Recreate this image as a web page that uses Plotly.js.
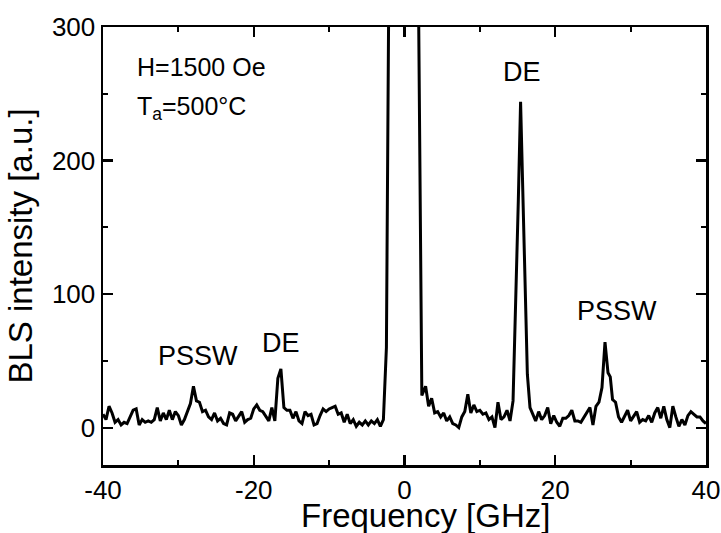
<!DOCTYPE html>
<html>
<head>
<meta charset="utf-8">
<script src="https://cdn.plot.ly/plotly-3.0.1.min.js"></script>
<style>
  html, body { margin: 0; padding: 0; background: #fff; }
  #chart { width: 721px; height: 533px; }
</style>
</head>
<body>
<div id="chart"></div>
<script>
// Brillouin light scattering spectrum, H = 1500 Oe, annealed at 500 °C
const frequencyGHz = [
  -40.0, -39.6, -39.2, -38.8, -38.4, -38.0, -37.6, -37.2, -36.8, -36.4,
  -36.0, -35.6, -35.2, -34.8, -34.4, -34.0, -33.6, -33.2, -32.8, -32.4,
  -32.0, -31.6, -31.2, -30.8, -30.4, -30.0, -29.6, -29.2, -28.8, -28.4,
  -28.0, -27.6, -27.2, -26.8, -26.4, -26.0, -25.6, -25.2, -24.8, -24.4,
  -24.0, -23.6, -23.2, -22.8, -22.4, -22.0, -21.6, -21.2, -20.8, -20.4,
  -20.0, -19.6, -19.2, -18.8, -18.4, -18.0, -17.6, -17.2, -16.8, -16.4,
  -16.0, -15.6, -15.2, -14.8, -14.4, -14.0, -13.6, -13.2, -12.8, -12.4,
  -12.0, -11.6, -11.2, -10.8, -10.4, -10.0, -9.6, -9.2, -8.8, -8.4,
  -8.0, -7.6, -7.2, -6.8, -6.4, -6.0, -5.6, -5.2, -4.8, -4.4,
  -4.0, -3.6, -3.2, -2.8, -2.4, -2.0, -1.6, -1.2, -0.8, -0.4,
  0.0, 0.4, 0.8, 1.2, 1.6, 1.8, 2.3, 2.8, 3.2, 3.6,
  4.0, 4.4, 4.8, 5.2, 5.6, 6.0, 6.4, 6.8, 7.2, 7.6,
  8.0, 8.4, 8.8, 9.2, 9.6, 10.0, 10.4, 10.8, 11.2, 11.6,
  12.0, 12.4, 12.8, 13.2, 13.6, 14.0, 14.4, 14.8, 15.1, 15.4,
  15.7, 16.0, 16.3, 16.65, 17.0, 17.4, 17.8, 18.2, 18.6, 19.0,
  19.4, 19.8, 20.2, 20.6, 21.0, 21.4, 21.8, 22.2, 22.6, 23.0,
  23.4, 23.8, 24.2, 24.6, 25.0, 25.4, 25.8, 26.2, 26.6, 27.0,
  27.3, 27.6, 28.0, 28.4, 28.8, 29.2, 29.6, 30.0, 30.4, 30.8,
  31.2, 31.6, 32.0, 32.4, 32.8, 33.2, 33.6, 34.0, 34.4, 34.8,
  35.2, 35.6, 36.0, 36.4, 36.8, 37.2, 37.6, 38.0, 38.4, 38.8,
  39.2, 39.6, 40.0
];

const blsIntensity = [
  10, 6, 16, 11, 4, 6, 2, 4, 3, 8,
  13, 14, 2, 6, 4, 5, 4, 6, 15, 5,
  11, 6, 13, 6, 12, 9, 2, 6, 12, 18,
  31, 20, 19, 12, 13, 8, 6, 11, 5, 7,
  3, 2, 11, 10, 5, 9, 12, 4, 6, 7,
  14, 17, 13, 12, 8, 5, 15, 5, 37, 44,
  15, 13, 13, 7, 12, 5, 3, 12, 9, 10,
  2, 3, 9, 14, 12, 14, 15, 16, 10, 11,
  4, 10, 3, 6, 1, 4, 2, 5, 2, 5,
  3, 6, 1, 6, 60, 400, 1800, 3600, 5200, 6000,
  6200, 5600, 4200, 2600, 1100, 360, 24, 31, 16, 22,
  11, 12, 8, 11, 5, 8, 3, 2, 0, 8,
  12, 25, 11, 17, 12, 13, 10, 11, 6, 8,
  0, 19, 6, 8, 13, 5, 20, 100, 170, 244,
  180, 105, 40, 15, 10, 5, 12, 6, 9, 15,
  3, 9, 4, 1, 7, 7, 9, 13, 5, 5,
  4, 8, 12, 15, 2, 16, 19, 30, 64, 41,
  38, 21, 19, 8, 4, 9, 13, 5, 9, 12,
  4, 6, 5, 9, 4, 11, 15, 7, 16, 6,
  0, 16, 8, 1, 6, 2, 9, 12, 10, 8,
  8, 5, 3
];

// Axis tick values and their printed labels (plain hyphen for negatives)
const xTickVals = [-40, -20, 0, 20, 40];
const xTickText = ['-40', '-20', '0', '20', '40'];
const yTickVals = [0, 100, 200, 300];
const yTickText = ['0', '100', '200', '300'];

// Spin-wave mode labels
const modeLabels = ['PSSW', 'DE', 'DE', 'PSSW'];
const fieldLabel = 'H=1500 Oe';
const annealLabel = 'T<sub>a</sub>=500°C';
const xTitle = 'Frequency [GHz]';
const yTitle = 'BLS intensity [a.u.]';

const FONT = 'Liberation Sans, Arial, Helvetica, sans-serif';

const trace = {
  x: frequencyGHz,
  y: blsIntensity,
  type: 'scatter',
  mode: 'lines',
  line: { color: '#000', width: 3 },
  hoverinfo: 'x+y'
};

// label placement in data coordinates
const modePos = [
  { x: -27.4, y: 54 },
  { x: -16.4, y: 63 },
  { x: 15.6, y: 266 },
  { x: 28.2, y: 87 }
];

const annotations = modeLabels.map((t, i) => ({
  text: t, x: modePos[i].x, y: modePos[i].y, xref: 'x', yref: 'y',
  showarrow: false, xanchor: 'center', yanchor: 'middle',
  font: { family: FONT, size: 27, color: '#000' }
}));

annotations.push(
  { text: fieldLabel, x: -35.7, y: 270, xref: 'x', yref: 'y', showarrow: false,
    xanchor: 'left', yanchor: 'middle', font: { family: FONT, size: 25, color: '#000' } },
  { text: annealLabel, x: -35.7, y: 239, xref: 'x', yref: 'y', showarrow: false,
    xanchor: 'left', yanchor: 'middle', font: { family: FONT, size: 25, color: '#000' } },
  { text: xTitle, x: 0.535, y: 0, xref: 'paper', yref: 'paper', yshift: -50,
    showarrow: false, xanchor: 'center', yanchor: 'middle',
    font: { family: FONT, size: 33, color: '#000' } }
);

const axisCommon = {
  showgrid: false, zeroline: false,
  showline: true, linecolor: '#000', linewidth: 2.5, mirror: 'ticks',
  ticks: 'inside', ticklen: 10, tickwidth: 2.2, tickcolor: '#000',
  tickmode: 'array',
  tickfont: { family: FONT, size: 26, color: '#000' }
};

const layout = {
  width: 721, height: 533,
  margin: { l: 103, r: 15, t: 27, b: 68 },
  paper_bgcolor: '#fff', plot_bgcolor: '#fff',
  showlegend: false,
  xaxis: Object.assign({}, axisCommon, {
    range: [-40, 40], tickvals: xTickVals, ticktext: xTickText,
    minor: { ticks: 'inside', ticklen: 5, tickwidth: 2, tickcolor: '#000', dtick: 10, tick0: 0, showgrid: false }
  }),
  yaxis: Object.assign({}, axisCommon, {
    range: [-28, 300], tickvals: yTickVals, ticktext: yTickText,
    minor: { ticks: 'inside', ticklen: 5, tickwidth: 2, tickcolor: '#000', dtick: 50, tick0: 0, showgrid: false },
    title: { text: yTitle, standoff: 10, font: { family: FONT, size: 33, color: '#000' } }
  }),
  annotations: annotations
};

Plotly.newPlot('chart', [trace], layout, { displayModeBar: false, staticPlot: true });
</script>
</body>
</html>
